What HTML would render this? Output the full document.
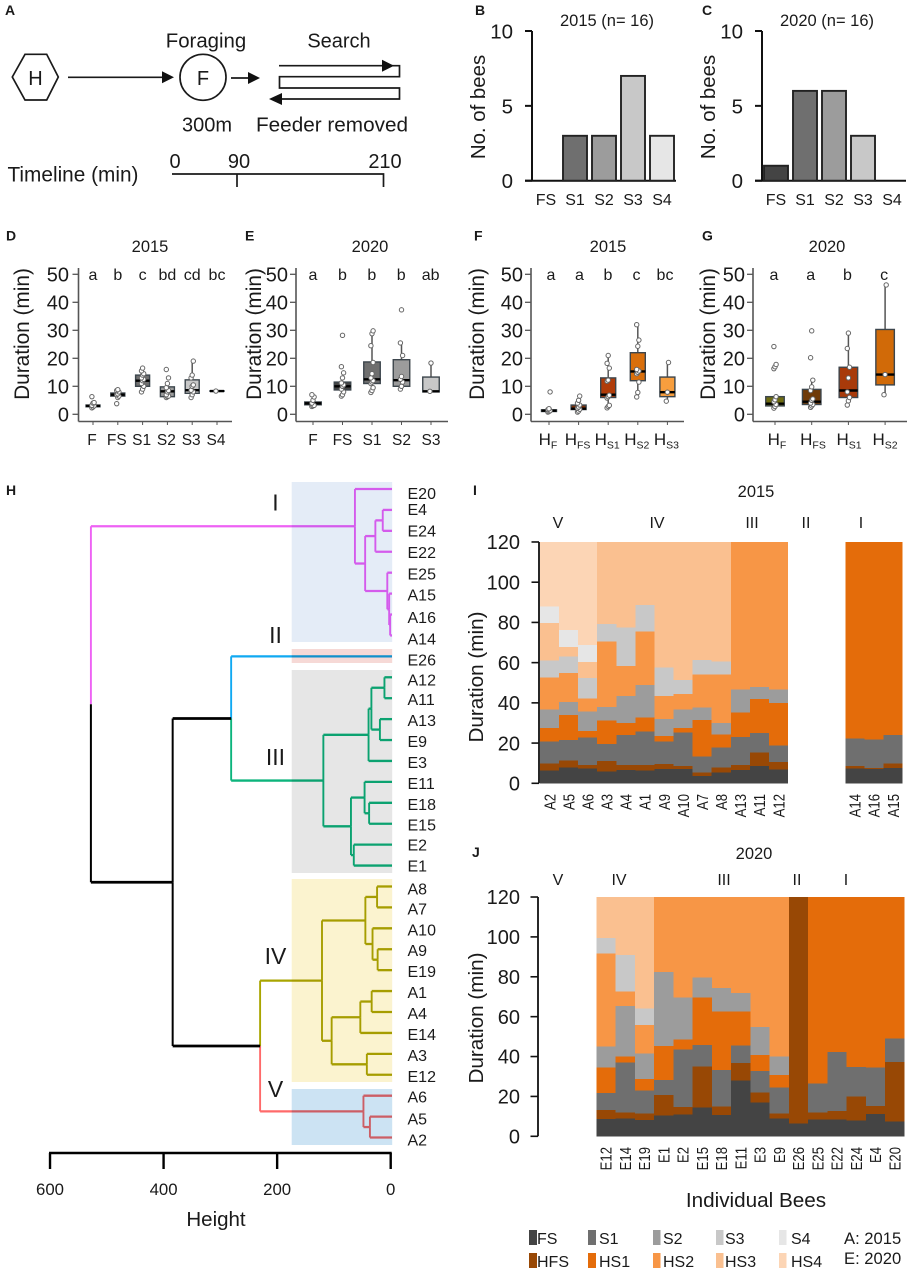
<!DOCTYPE html>
<html lang="en">
<head>
<meta charset="utf-8">
<title>Bee foraging and search duration figure</title>
<style>
html,body{margin:0;padding:0;background:#fff;}
body{width:911px;height:1272px;overflow:hidden;}
svg{display:block;font-family:"Liberation Sans",Arial,sans-serif;fill:#1a1a1a;}
.letter{font-weight:bold;font-size:14px;}
.big{font-size:20px;}
.mid{font-size:16.5px;}
.mblend{mix-blend-mode:multiply;}
</style>
</head>
<body>
<svg id="figure" xmlns="http://www.w3.org/2000/svg" width="911" height="1272" viewBox="0 0 911 1272">
  <rect x="0" y="0" width="911" height="1272" fill="#fff"/>

  <g>
    <text class="letter" x="5" y="15">A</text>
    <polygon points="12.3,77 25,54.3 46.7,54.3 58.3,77 46.7,100 25,100" fill="#fff" stroke="#1a1a1a" stroke-width="1.7"/>
    <text x="35.5" y="85" text-anchor="middle" class="big">H</text>
    <line x1="68" y1="77.3" x2="164" y2="77.3" stroke="#1a1a1a" stroke-width="1.7"/>
    <polygon points="162,71.3 174,77.3 162,83.3" fill="#111"/>
    <circle cx="203" cy="77.3" r="23" fill="#fff" stroke="#1a1a1a" stroke-width="1.7"/>
    <text x="203" y="85" text-anchor="middle" class="big">F</text>
    <line x1="231" y1="78" x2="250" y2="78" stroke="#1a1a1a" stroke-width="1.7"/>
    <polygon points="248,72 260,78 248,84" fill="#111"/>
    <polyline points="279,65.7 399.5,65.7 399.5,76.7 279.5,76.7 279.5,88 399.5,88 399.5,99 275,99" fill="none" stroke="#1a1a1a" stroke-width="1.7"/>
    <polygon points="382,59.7 394,65.7 382,71.7" fill="#111"/>
    <polygon points="282,93 269,99 282,105" fill="#111"/>
    <text x="206" y="47.7" text-anchor="middle" style="font-size:20.4px">Foraging</text>
    <text x="339" y="47.7" text-anchor="middle" class="big">Search</text>
    <text x="207" y="131.7" text-anchor="middle" class="big">300m</text>
    <text x="332" y="131.7" text-anchor="middle" textLength="152" lengthAdjust="spacingAndGlyphs" style="font-size:20px">Feeder removed</text>
    <text x="7.5" y="181.7" style="font-size:20.8px">Timeline (min)</text>
    <text x="175" y="168" text-anchor="middle" class="big">0</text>
    <text x="239" y="168" text-anchor="middle" class="big">90</text>
    <text x="385" y="168" text-anchor="middle" class="big">210</text>
    <polyline points="172,174 383.5,174 383.5,187" fill="none" stroke="#1a1a1a" stroke-width="1.7"/>
    <line x1="237" y1="174" x2="237" y2="187" stroke="#1a1a1a" stroke-width="1.7"/>
  </g>

  <g>
    <text class="letter" x="475" y="15">B</text>
    <text class="letter" x="702" y="15">C</text>
    <text class="letter" x="6" y="240.7">D</text>
    <text class="letter" x="245" y="240.7">E</text>
    <text class="letter" x="474" y="240.7">F</text>
    <text class="letter" x="702" y="240.7">G</text>
    <text class="letter" x="6" y="495">H</text>
    <text class="letter" x="473" y="495">I</text>
    <text class="letter" x="472" y="857">J</text>
  </g>

  <g id="panel-b">
    <text x="607" y="26" text-anchor="middle" class="mid">2015 (n= 16)</text>
    <text transform="translate(485,107) rotate(-90)" text-anchor="middle" style="font-size:20.4px">No. of bees</text>
  </g>
  <g id="panel-c">
    <text x="827" y="26" text-anchor="middle" class="mid">2020 (n= 16)</text>
    <text transform="translate(715,107) rotate(-90)" text-anchor="middle" style="font-size:20.4px">No. of bees</text>
  </g>

  <g id="panel-d">
    <text x="150" y="252" text-anchor="middle" class="mid">2015</text>
    <text transform="translate(29,334) rotate(-90)" text-anchor="middle" style="font-size:20.8px">Duration (min)</text>
  </g>
  <g id="panel-e">
    <text x="370" y="252" text-anchor="middle" class="mid">2020</text>
    <text transform="translate(261,334) rotate(-90)" text-anchor="middle" style="font-size:20.8px">Duration (min)</text>
  </g>
  <g id="panel-f">
    <text x="608" y="252" text-anchor="middle" class="mid">2015</text>
    <text transform="translate(484,334) rotate(-90)" text-anchor="middle" style="font-size:20.8px">Duration (min)</text>
  </g>
  <g id="panel-g">
    <text x="827" y="252" text-anchor="middle" class="mid">2020</text>
    <text transform="translate(715,334) rotate(-90)" text-anchor="middle" style="font-size:20.8px">Duration (min)</text>
  </g>

  <g id="panel-h">
    <text x="216" y="1226" text-anchor="middle" style="font-size:20.5px">Height</text>
  </g>

  <g id="panel-i">
    <text x="756" y="497" text-anchor="middle" class="mid">2015</text>
    <text transform="translate(483,677) rotate(-90)" text-anchor="middle" style="font-size:20.7px">Duration (min)</text>
  </g>
  <g id="panel-j">
    <text x="754" y="859" text-anchor="middle" class="mid">2020</text>
    <text transform="translate(483,1018) rotate(-90)" text-anchor="middle" style="font-size:20.7px">Duration (min)</text>
    <text x="756" y="1207" text-anchor="middle" style="font-size:20.7px">Individual Bees</text>
  </g>

  <g style="font-size:16px">
    <rect x="529" y="1230" width="8" height="15" fill="#444444"/>
    <text x="537" y="1244">FS</text>
    <rect x="588" y="1230" width="8" height="15" fill="#6f6f6f"/>
    <text x="599" y="1244">S1</text>
    <rect x="653" y="1230" width="7.5" height="15" fill="#9c9c9c"/>
    <text x="663" y="1244">S2</text>
    <rect x="716" y="1230" width="7.5" height="15" fill="#c8c8c8"/>
    <text x="725" y="1244">S3</text>
    <rect x="779" y="1230" width="7.5" height="15" fill="#e6e6e6"/>
    <text x="791" y="1244">S4</text>
    <rect x="529" y="1253" width="8" height="15" fill="#984805"/>
    <text x="537" y="1267">HFS</text>
    <rect x="588" y="1253" width="8" height="15" fill="#e46c0a"/>
    <text x="599" y="1267">HS1</text>
    <rect x="653" y="1253" width="7.5" height="15" fill="#f79646"/>
    <text x="663" y="1267">HS2</text>
    <rect x="716" y="1253" width="7.5" height="15" fill="#fac090"/>
    <text x="725" y="1267">HS3</text>
    <rect x="779" y="1253" width="7.5" height="15" fill="#fcd5b5"/>
    <text x="791" y="1267">HS4</text>
    <text x="844" y="1244" style="font-size:16.6px">A: 2015</text>
    <text x="844" y="1264" style="font-size:16.6px">E: 2020</text>
  </g>
</svg>

<script>
/* ---------- Panels B, C: number of bees per search class ---------- */
const countCategories = ['FS', 'S1', 'S2', 'S3', 'S4'];
const counts2015 = [0, 3, 3, 7, 3];
const counts2020 = [1, 6, 6, 3, 0];
const countTicks = [0, 5, 10];

/* ---------- Panels D-G: boxplot summaries (minutes) ---------- */
const dLabels = ['F', 'FS', 'S1', 'S2', 'S3', 'S4'];
const dLetters = ['a', 'b', 'c', 'bd', 'cd', 'bc'];
const dQ1 = [2.7, 6.5, 10, 6.3, 7.5, 8.2];
const dMedian = [3, 7, 12, 8.2, 8.6, 8.3];
const dQ3 = [3.3, 7.6, 14, 9.8, 12.3, 8.4];
const dWhiskerLow = [2.3, 6.5, 8, 6, 6, 8.2];
const dWhiskerHigh = [3.3, 7.6, 16.5, 9.8, 19, 8.4];
const dPoints = [
  [2.3, 2.6, 3, 3.2, 4, 4.2, 6.3],
  [3.8, 6, 6.5, 7, 7.3, 8, 8.5, 8.8],
  [8, 9, 10, 11, 12, 12.5, 13, 14, 14.5, 15.5, 16.5],
  [6, 6.3, 6.5, 7, 8, 8.5, 9.5, 11, 13, 16],
  [6, 7, 8, 8.6, 10, 10.5, 13, 14, 19],
  [8.3]
];

const eLabels = ['F', 'FS', 'S1', 'S2', 'S3'];
const eLetters = ['a', 'b', 'b', 'b', 'ab'];
const eQ1 = [3.4, 8.7, 11, 10, 8];
const eMedian = [3.9, 10, 12.5, 12.2, 8.2];
const eQ3 = [4.4, 11.5, 18.7, 19.5, 13.3];
const eWhiskerLow = [3.4, 8.7, 7.8, 9, 8];
const eWhiskerHigh = [4.4, 11.5, 29.8, 25.5, 18.3];
const ePoints = [
  [2.8, 3, 3.2, 4, 5, 6.2, 7],
  [6.5, 7, 8, 9, 10, 10.5, 11.2, 13, 14.8, 17, 28.2],
  [7.8, 8.5, 9.5, 11, 11.5, 12, 13, 14.5, 18.5, 24.5, 28.8, 29.8],
  [9, 10, 11.5, 12.5, 13.5, 21, 25.5, 37.3],
  [8.2, 18.3]
];

const fLabels = ['F', 'FS', 'S1', 'S2', 'S3'];
const fLetters = ['a', 'a', 'b', 'c', 'bc'];
const fQ1 = [1, 1.7, 6, 12, 6.3];
const fMedian = [1.3, 2, 7, 15.3, 7.9];
const fQ3 = [1.6, 3.3, 13, 22, 13.3];
const fWhiskerLow = [1, 1.7, 2.3, 6.2, 4.7];
const fWhiskerHigh = [1.6, 3.3, 21, 32, 18.5];
const fPoints = [
  [0.8, 1, 1.3, 1.7, 2, 8],
  [0.8, 1.2, 1.8, 2.2, 2.6, 3.3, 4, 5, 6.5],
  [2.3, 2.8, 3.2, 5.8, 6.3, 6.8, 11.8, 12.2, 16.5, 18.2, 21],
  [6.2, 7.8, 11.5, 14.5, 15, 15.5, 16, 24.3, 26.5, 32],
  [4.7, 7.9, 18.5]
];

const gLabels = ['F', 'FS', 'S1', 'S2'];
const gLetters = ['a', 'a', 'b', 'c'];
const gQ1 = [3, 3.5, 6, 10.5];
const gMedian = [3.8, 4.5, 8.5, 14.2];
const gQ3 = [6.3, 8.9, 16.8, 30.3];
const gWhiskerLow = [3, 2.5, 3.3, 7];
const gWhiskerHigh = [6.3, 12.2, 29, 46.2];
const gPoints = [
  [2.2, 2.8, 3.5, 4.5, 5.2, 6.3, 16.3, 17, 17.8, 24.2],
  [2.5, 3, 3.5, 4, 5, 5.5, 8.5, 9.8, 12.2, 20.2, 29.8],
  [3.3, 4.8, 6, 8, 13, 16.8, 23.5, 29],
  [7, 14.2, 46.2]
];
const durationTicks = [0, 10, 20, 30, 40, 50];

/* ---------- Panel H: hierarchical clustering merges ---------- */
const leafLabels = ['E20','E4','E24','E22','E25','A15','A16','A14','E26','A12','A11','A13','E9','E3','E11','E18','E15','E2','E1','A8','A7','A10','A9','E19','A1','A4','E14','A3','E12','A6','A5','A2'];
/* a string is a leaf, a number refers to an earlier merge */
const mergeLeft = ['E4', 0, 'A16', 'A15', 'E25', 1, 'E20', 'A12', 'A13', 7, 9, 'E18', 'E11', 'E2', 12, 10, 'E26', 'A8', 'A9', 'A10', 17, 'A1', 21, 'A3', 22, 20, 'A5', 'A6', 25, 16, 6];
const mergeRight = ['E24', 'E22', 'A14', 2, 3, 4, 5, 'A11', 'E9', 8, 'E3', 'E15', 11, 'E1', 13, 14, 15, 'A7', 'E19', 18, 19, 'A4', 'E14', 'E12', 23, 24, 'A2', 26, 27, 28, 29];
const mergeHeight = [14, 27, 1, 2.7, 6, 45, 63, 11, 19, 34, 39, 38, 46, 65, 70, 118.6, 281, 24, 23, 32, 44.6, 33.5, 53.5, 42, 104, 121, 36.6, 48, 230, 384, 528];
const heightTicks = [0, 200, 400, 600];
const clusterNames = ['I', 'II', 'III', 'IV', 'V'];
const clusterRoots = [6, 'E26', 15, 25, 27];

/* ---------- Panels I, J: time at which each state ended (minutes) ---------- */
const stackTicks = [0, 20, 40, 60, 80, 100, 120];
const bees2015 = ['A2','A5','A6','A3','A4','A1','A9','A10','A7','A8','A13','A11','A12','','','','A14','A16','A15'];
const fsEnd2015 = [6.3,7.8,7.3,5.8,6.6,6.3,7.1,7,3.6,5.3,6.6,8.6,6.8,7.3,7,7.6];
const hfsEnd2015 = [9.8,11.4,9.1,11.1,9.1,9.1,9.6,8.6,5.3,7.8,9.1,15.3,10.6,8.5,7.6,9.8];
const s1End2015 = [20.7,21.6,22.7,19.6,24,25.7,20.7,25.2,13.3,17.9,23,25,18.7,22.4,21.9,23.9];
const hs1End2015 = [27.4,34,26,31.2,30,32.7,23.5,27.5,31.5,24.2,35.2,42,40,120,120,120];
const s2End2015 = [36.8,40.5,35.8,38,43.4,48.9,32,36.8,37.8,29.9,46.6,47.9,46.6,null,null,null];
const hs2End2015 = [52.7,54.9,42.1,70.5,58.4,75.5,43.4,44.4,54.1,54.2,120,120,120,null,null,null];
const s3End2015 = [61,63,52.4,79.1,77.4,88.7,57.5,51.4,61.2,60.5,null,null,null,null,null,null];
const hs3End2015 = [79.8,67.7,60.4,120,120,120,120,120,120,120,null,null,null,null,null,null];
const s4End2015 = [88,76.3,68.8,null,null,null,null,null,null,null,null,null,null,null,null,null];
const hs4End2015 = [120,120,120,null,null,null,null,null,null,null,null,null,null,null,null,null];

const bees2020 = ['','','','E12','E14','E19','E1','E2','E15','E18','E11','E3','E9','E26','E25','E22','E24','E4','E20'];
const fsEnd2020 = [8.7,9,8.2,10.5,11,14.5,10.7,28,16.9,9,6.4,8.5,8.5,7.9,11.2,7.5];
const hfsEnd2020 = [13.2,12,11.5,20.7,14.7,34.9,14.9,36.8,21.9,11.4,120,11.9,12.7,20,15.2,37.3];
const s1End2020 = [21.6,36.9,22.9,28.2,43.5,45.8,33.3,45.5,32.8,24.4,null,26.4,42.3,34.8,34.6,49];
const hs1End2020 = [34.6,40.1,28.7,45.3,48.5,69.5,62.5,62.5,40.8,30.8,null,120,120,120,120,120];
const s2End2020 = [45.1,65.4,41.4,82.4,69.5,79.6,74.4,71.9,54.8,39.9,null,null,null,null,null,null];
const hs2End2020 = [91.6,72.5,55.8,120,120,120,120,120,120,120,null,null,null,null,null,null];
const s3End2020 = [99.4,90.9,64.2,null,null,null,null,null,null,null,null,null,null,null,null,null];
const hs3End2020 = [120,120,120,null,null,null,null,null,null,null,null,null,null,null,null,null];

/* ---------- drawing ---------- */
const NS = 'http://www.w3.org/2000/svg';
function add(parent, tag, attrs, name, text) {
  const el = document.createElementNS(NS, tag);
  for (const k in attrs) el.setAttribute(k, attrs[k]);
  
  
  if (text !== undefined) el.textContent = text;
  parent.appendChild(el);
  return el;
}
function $(id) { return document.getElementById(id); }

/* count bars */
function drawCounts(g, values, axisX, barStart, panel) {
  const y = v => 180.7 - v * 14.97;
  const step = 29, barW = 24;
  const xEnd = barStart + step * values.length - 3;
  add(g, 'line', {x1: axisX, y1: y(10), x2: axisX, y2: y(0), stroke: '#111', 'stroke-width': 2}, panel + '-y-axis-line');
  add(g, 'line', {x1: axisX - 7, y1: y(0), x2: xEnd, y2: y(0), stroke: '#111', 'stroke-width': 2}, panel + '-x-axis-line');
  countTicks.forEach(t => {
    add(g, 'line', {x1: axisX - 7, y1: y(t), x2: axisX, y2: y(t), stroke: '#111', 'stroke-width': 2}, panel + '-y-tick-' + t);
    add(g, 'text', {x: axisX - 19, y: y(t) + 7.5, 'text-anchor': 'end', 'font-size': 20.5}, panel + '-y-tick-label-' + t, t);
  });
  const fills = ['#444444', '#6f6f6f', '#9c9c9c', '#c8c8c8', '#e6e6e6'];
  countCategories.forEach((c, i) => {
    const x = barStart + i * step;
    if (values[i] > 0) {
      add(g, 'rect', {x: x, y: y(values[i]), width: barW, height: y(0) - y(values[i]), fill: fills[i], stroke: '#222', 'stroke-width': 1.9}, panel + '-bar-' + c);
    }
    add(g, 'text', {x: x + barW / 2, y: 205, 'text-anchor': 'middle', 'font-size': 16}, panel + '-x-label-' + c, c);
  });
}
drawCounts($('panel-b'), counts2015, 532, 534, 'panel-b');
drawCounts($('panel-c'), counts2020, 762, 764, 'panel-c');

/* boxplots */
function drawBoxes(opts) {
  const g = $(opts.id);
  const y = v => 414.3 - v * 2.8;
  const xOf = i => opts.first + i * opts.step;
  const p = opts.id;
  add(g, 'line', {x1: opts.axisX, y1: 268, x2: opts.axisX, y2: 421.5, stroke: '#555', 'stroke-width': 1.6}, p + '-y-axis-line');
  add(g, 'line', {x1: opts.axisX, y1: 421.5, x2: opts.xEnd, y2: 421.5, stroke: '#555', 'stroke-width': 1.6}, p + '-x-axis-line');
  durationTicks.forEach(t => {
    add(g, 'line', {x1: opts.axisX - 6, y1: y(t), x2: opts.axisX, y2: y(t), stroke: '#555', 'stroke-width': 1.3}, p + '-y-tick-' + t);
    add(g, 'text', {x: opts.axisX - opts.labelGap, y: y(t) + 7.3, 'text-anchor': 'end', 'font-size': 20}, p + '-y-tick-label-' + t, t);
  });
  opts.labels.forEach((lab, i) => {
    const cx = xOf(i), w = opts.boxW;
    add(g, 'line', {x1: cx, y1: 421.5, x2: cx, y2: 425, stroke: '#555', 'stroke-width': 1}, p + '-x-tick-' + lab);
    add(g, 'line', {x1: cx, y1: y(opts.wLow[i]), x2: cx, y2: y(opts.wHigh[i]), stroke: '#555', 'stroke-width': 1.5}, p + '-whisker-' + lab);
    add(g, 'rect', {x: cx - w / 2, y: y(opts.q3[i]), width: w, height: y(opts.q1[i]) - y(opts.q3[i]), fill: opts.fills[i], stroke: '#3d464d', 'stroke-width': 1.4}, p + '-box-' + lab);
    add(g, 'line', {x1: cx - w / 2, y1: y(opts.med[i]), x2: cx + w / 2, y2: y(opts.med[i]), stroke: '#000', 'stroke-width': 2.4}, p + '-median-' + lab);
    opts.points[i].forEach((v, k) => {
      add(g, 'circle', {cx: cx + ((k % 3) - 1) * 1.1, cy: y(v), r: 2.2, fill: '#fff', stroke: '#666', 'stroke-width': 1}, p + '-point-' + lab);
    });
    add(g, 'text', {x: opts.letterX(i), y: 280, 'text-anchor': 'middle', 'font-size': 16}, p + '-significance-' + lab, opts.letters[i]);
    const tx = add(g, 'text', {x: opts.labelX(i), y: 445, 'text-anchor': 'middle', 'font-size': opts.sub ? 17 : 15.5}, p + '-x-label-' + lab, opts.sub ? 'H' : lab);
    if (opts.sub) {
      add(tx, 'tspan', {dy: 3.5, 'font-size': 10.5}, p + '-x-label-subscript-' + lab, lab);
    }
  });
}
const greyFills = ['#444444', '#444444', '#6f6f6f', '#9c9c9c', '#c8c8c8', '#e6e6e6'];
drawBoxes({id: 'panel-d', axisX: 78.5, xEnd: 232, labelGap: 9.5, first: 93, step: 24.8, boxW: 14, labels: dLabels, letters: dLetters, q1: dQ1, med: dMedian, q3: dQ3, wLow: dWhiskerLow, wHigh: dWhiskerHigh, points: dPoints, fills: greyFills, labelX: i => 92 + i * 24.8, letterX: i => 93 + i * 24.8});
drawBoxes({id: 'panel-e', axisX: 296, xEnd: 448, labelGap: 8, first: 313, step: 29.5, boxW: 16.5, labels: eLabels, letters: eLetters, q1: eQ1, med: eMedian, q3: eQ3, wLow: eWhiskerLow, wHigh: eWhiskerHigh, points: ePoints, fills: greyFills, labelX: i => 313 + i * 29.5, letterX: i => 313 + i * 29.4});
drawBoxes({id: 'panel-f', axisX: 531, xEnd: 684, labelGap: 8, first: 549, step: 29.6, boxW: 15, labels: fLabels, letters: fLetters, q1: fQ1, med: fMedian, q3: fQ3, wLow: fWhiskerLow, wHigh: fWhiskerHigh, points: fPoints, fills: ['#6e6c10', '#7a2f08', '#b03c0a', '#d96f0c', '#f79e3e'], labelX: i => 548 + i * 29.6, letterX: i => 551 + i * 28.5, sub: true});
drawBoxes({id: 'panel-g', axisX: 753, xEnd: 907, labelGap: 8, first: 775, step: 36.7, boxW: 18.5, labels: gLabels, letters: gLetters, q1: gQ1, med: gMedian, q3: gQ3, wLow: gWhiskerLow, wHigh: gWhiskerHigh, points: gPoints, fills: ['#6e6c10', '#6f3a08', '#a83a0a', '#d16a08'], labelX: i => 777 + i * 36, letterX: i => 774 + i * 36.7, sub: true});

/* dendrogram */
(function () {
  const g = $('panel-h');
  const hx = h => 390.7 - h * 0.5678;
  const ly = i => 489 + i * 20.92;
  const clusterColor = {I: '#ee62f4', II: '#10a9f2', III: '#0cb47c', IV: '#a9a500', V: '#ff6a6a'};
  const blackLine = '#000';
  const nodes = [];
  const nodeOf = ref => typeof ref === 'number' ? nodes[ref] : {x: 392, y: ly(leafLabels.indexOf(ref)), color: null, name: ref};
  const rootOf = {};
  clusterRoots.forEach((r, i) => { rootOf[r] = clusterColor[clusterNames[i]]; });
  const refs = mergeHeight.map((h, i) => i);
  /* colour propagates from cluster roots downward */
  const colorFor = new Array(mergeHeight.length).fill(null);
  const leafColor = {};
  for (let i = mergeHeight.length - 1; i >= 0; i--) {
    if (rootOf[i]) colorFor[i] = rootOf[i];
    [mergeLeft[i], mergeRight[i]].forEach(c => {
      if (typeof c === 'number') { if (colorFor[i]) colorFor[c] = colorFor[i]; }
      else leafColor[c] = colorFor[i] || rootOf[c] || blackLine;
    });
  }
  refs.forEach(i => {
    const a = nodeOf(mergeLeft[i]), b = nodeOf(mergeRight[i]);
    nodes[i] = {x: hx(mergeHeight[i]), y: (a.y + b.y) / 2, color: colorFor[i], name: 'merge-' + i};
  });
  const lines = add(g, 'g', {}, 'dendrogram-branches');
  refs.forEach(i => {
    const me = nodes[i];
    [mergeLeft[i], mergeRight[i]].forEach(c => {
      const ch = nodeOf(c);
      const col = typeof c === 'number' ? (ch.color || blackLine) : leafColor[c];
      add(lines, 'line', {x1: me.x, y1: ch.y, x2: ch.x, y2: ch.y, stroke: col, 'stroke-width': col === blackLine ? 2.8 : 2.3}, 'branch-horizontal-' + ch.name);
      add(lines, 'line', {x1: me.x, y1: ch.y, x2: me.x, y2: me.y, stroke: col, 'stroke-width': col === blackLine ? 2 : 1.9}, 'branch-vertical-' + ch.name);
    });
  });
  const shades = [['cluster-i-band', 482, 642, '#e4ecf7'], ['cluster-ii-band', 649, 663, '#f6d9d6'], ['cluster-iii-band', 670, 873, '#e6e6e6'], ['cluster-iv-band', 879, 1082, '#fbf3cf'], ['cluster-v-band', 1089, 1145, '#cce3f3']];
  shades.forEach(s => {
    add(g, 'rect', {x: 291.7, y: s[1], width: 100.5, height: s[2] - s[1], fill: s[3], class: 'mblend'}, s[0]);
  });
  const nudge = {E20: 3, E4: -2, E24: -1.3, E22: -1, A16: 1.7, A14: 2, E26: 2, A12: 1, A8: 1, A5: 1, A2: 1, E2: -1, E1: -1};
  leafLabels.forEach((lab, i) => {
    add(g, 'text', {x: 407.5, y: ly(i) + 7 + (nudge[lab] || 0), 'font-size': 16}, 'leaf-label-' + lab, lab);
  });
  const romanY = {I: 510.7, II: 643, III: 765, IV: 964, V: 1097};
  clusterNames.forEach(n => {
    add(g, 'text', {x: 275.5, y: romanY[n], 'text-anchor': 'middle', 'font-size': 23}, 'cluster-label-' + n, n);
  });
  add(g, 'line', {x1: hx(600) - 1, y1: 1153, x2: hx(0) + 1, y2: 1153, stroke: '#000', 'stroke-width': 2.4}, 'height-axis-line');
  heightTicks.forEach(t => {
    add(g, 'line', {x1: hx(t), y1: 1153, x2: hx(t), y2: 1169, stroke: '#000', 'stroke-width': 2.4}, 'height-tick-' + t);
    add(g, 'text', {x: hx(t), y: 1195, 'text-anchor': 'middle', 'font-size': 16.8}, 'height-tick-label-' + t, t);
  });
})();

/* stacked phase charts */
function drawStack(opts) {
  const g = $(opts.id);
  const p = opts.id;
  const y = v => opts.y0 - v * opts.perMin;
  const xOf = s => opts.x0 + s * opts.band;
  const colors = ['#444444', '#984805', '#6f6f6f', '#e46c0a', '#9c9c9c', '#f79646', '#c8c8c8', '#fac090', '#e6e6e6', '#fcd5b5'];
  const keys = ['fs', 'hfs', 's1', 'hs1', 's2', 'hs2', 's3', 'hs3', 's4', 'hs4'];
  let j = -1;
  opts.bees.forEach((bee, slot) => {
    if (!bee) return;
    j++;
    let prev = 0;
    opts.series.forEach((ends, k) => {
      const end = ends[j];
      if (end === null || end === undefined) return;
      add(g, 'rect', {x: xOf(slot), y: y(end), width: opts.band + 0.2, height: y(prev) - y(end), fill: colors[k], 'shape-rendering': 'crispEdges'}, p + '-segment-' + bee + '-' + keys[k]);
      prev = end;
    });
    const cx = xOf(slot) + opts.band / 2 + 5.8;
    add(g, 'text', {transform: 'translate(' + cx + ',' + opts.labelTop + ') rotate(-90) scale(0.82,1)', 'text-anchor': 'end', 'font-size': 16}, p + '-bee-label-' + bee, bee);
  });
  add(g, 'line', {x1: opts.axisX, y1: y(120), x2: opts.axisX, y2: y(0), stroke: '#111', 'stroke-width': 1.8}, p + '-y-axis-line');
  stackTicks.forEach(t => {
    add(g, 'line', {x1: opts.axisX - 7.5, y1: y(t), x2: opts.axisX, y2: y(t), stroke: '#111', 'stroke-width': 1.6}, p + '-y-tick-' + t);
    add(g, 'text', {x: 520, y: y(t) + 7.2, 'text-anchor': 'end', 'font-size': 20}, p + '-y-tick-label-' + t, t);
  });
  opts.clusterX.forEach((cx, i) => {
    add(g, 'text', {x: cx, y: opts.clusterY, 'text-anchor': 'middle', 'font-size': 16}, p + '-cluster-label-' + opts.clusterOrder[i], opts.clusterOrder[i]);
  });
}
drawStack({id: 'panel-i', y0: 783.3, perMin: 2.011, x0: 540, band: 19.08, axisX: 539, labelTop: 794, bees: bees2015,
  series: [fsEnd2015, hfsEnd2015, s1End2015, hs1End2015, s2End2015, hs2End2015, s3End2015, hs3End2015, s4End2015, hs4End2015],
  clusterOrder: ['V', 'IV', 'III', 'II', 'I'], clusterX: [558, 657, 752, 806, 861], clusterY: 528});
drawStack({id: 'panel-j', y0: 1136.3, perMin: 1.994, x0: 538.5, band: 19.25, axisX: 538, labelTop: 1147, bees: bees2020,
  series: [fsEnd2020, hfsEnd2020, s1End2020, hs1End2020, s2End2020, hs2End2020, s3End2020, hs3End2020],
  clusterOrder: ['V', 'IV', 'III', 'II', 'I'], clusterX: [558, 619, 724, 797, 846], clusterY: 885});
</script>
</body>
</html>
